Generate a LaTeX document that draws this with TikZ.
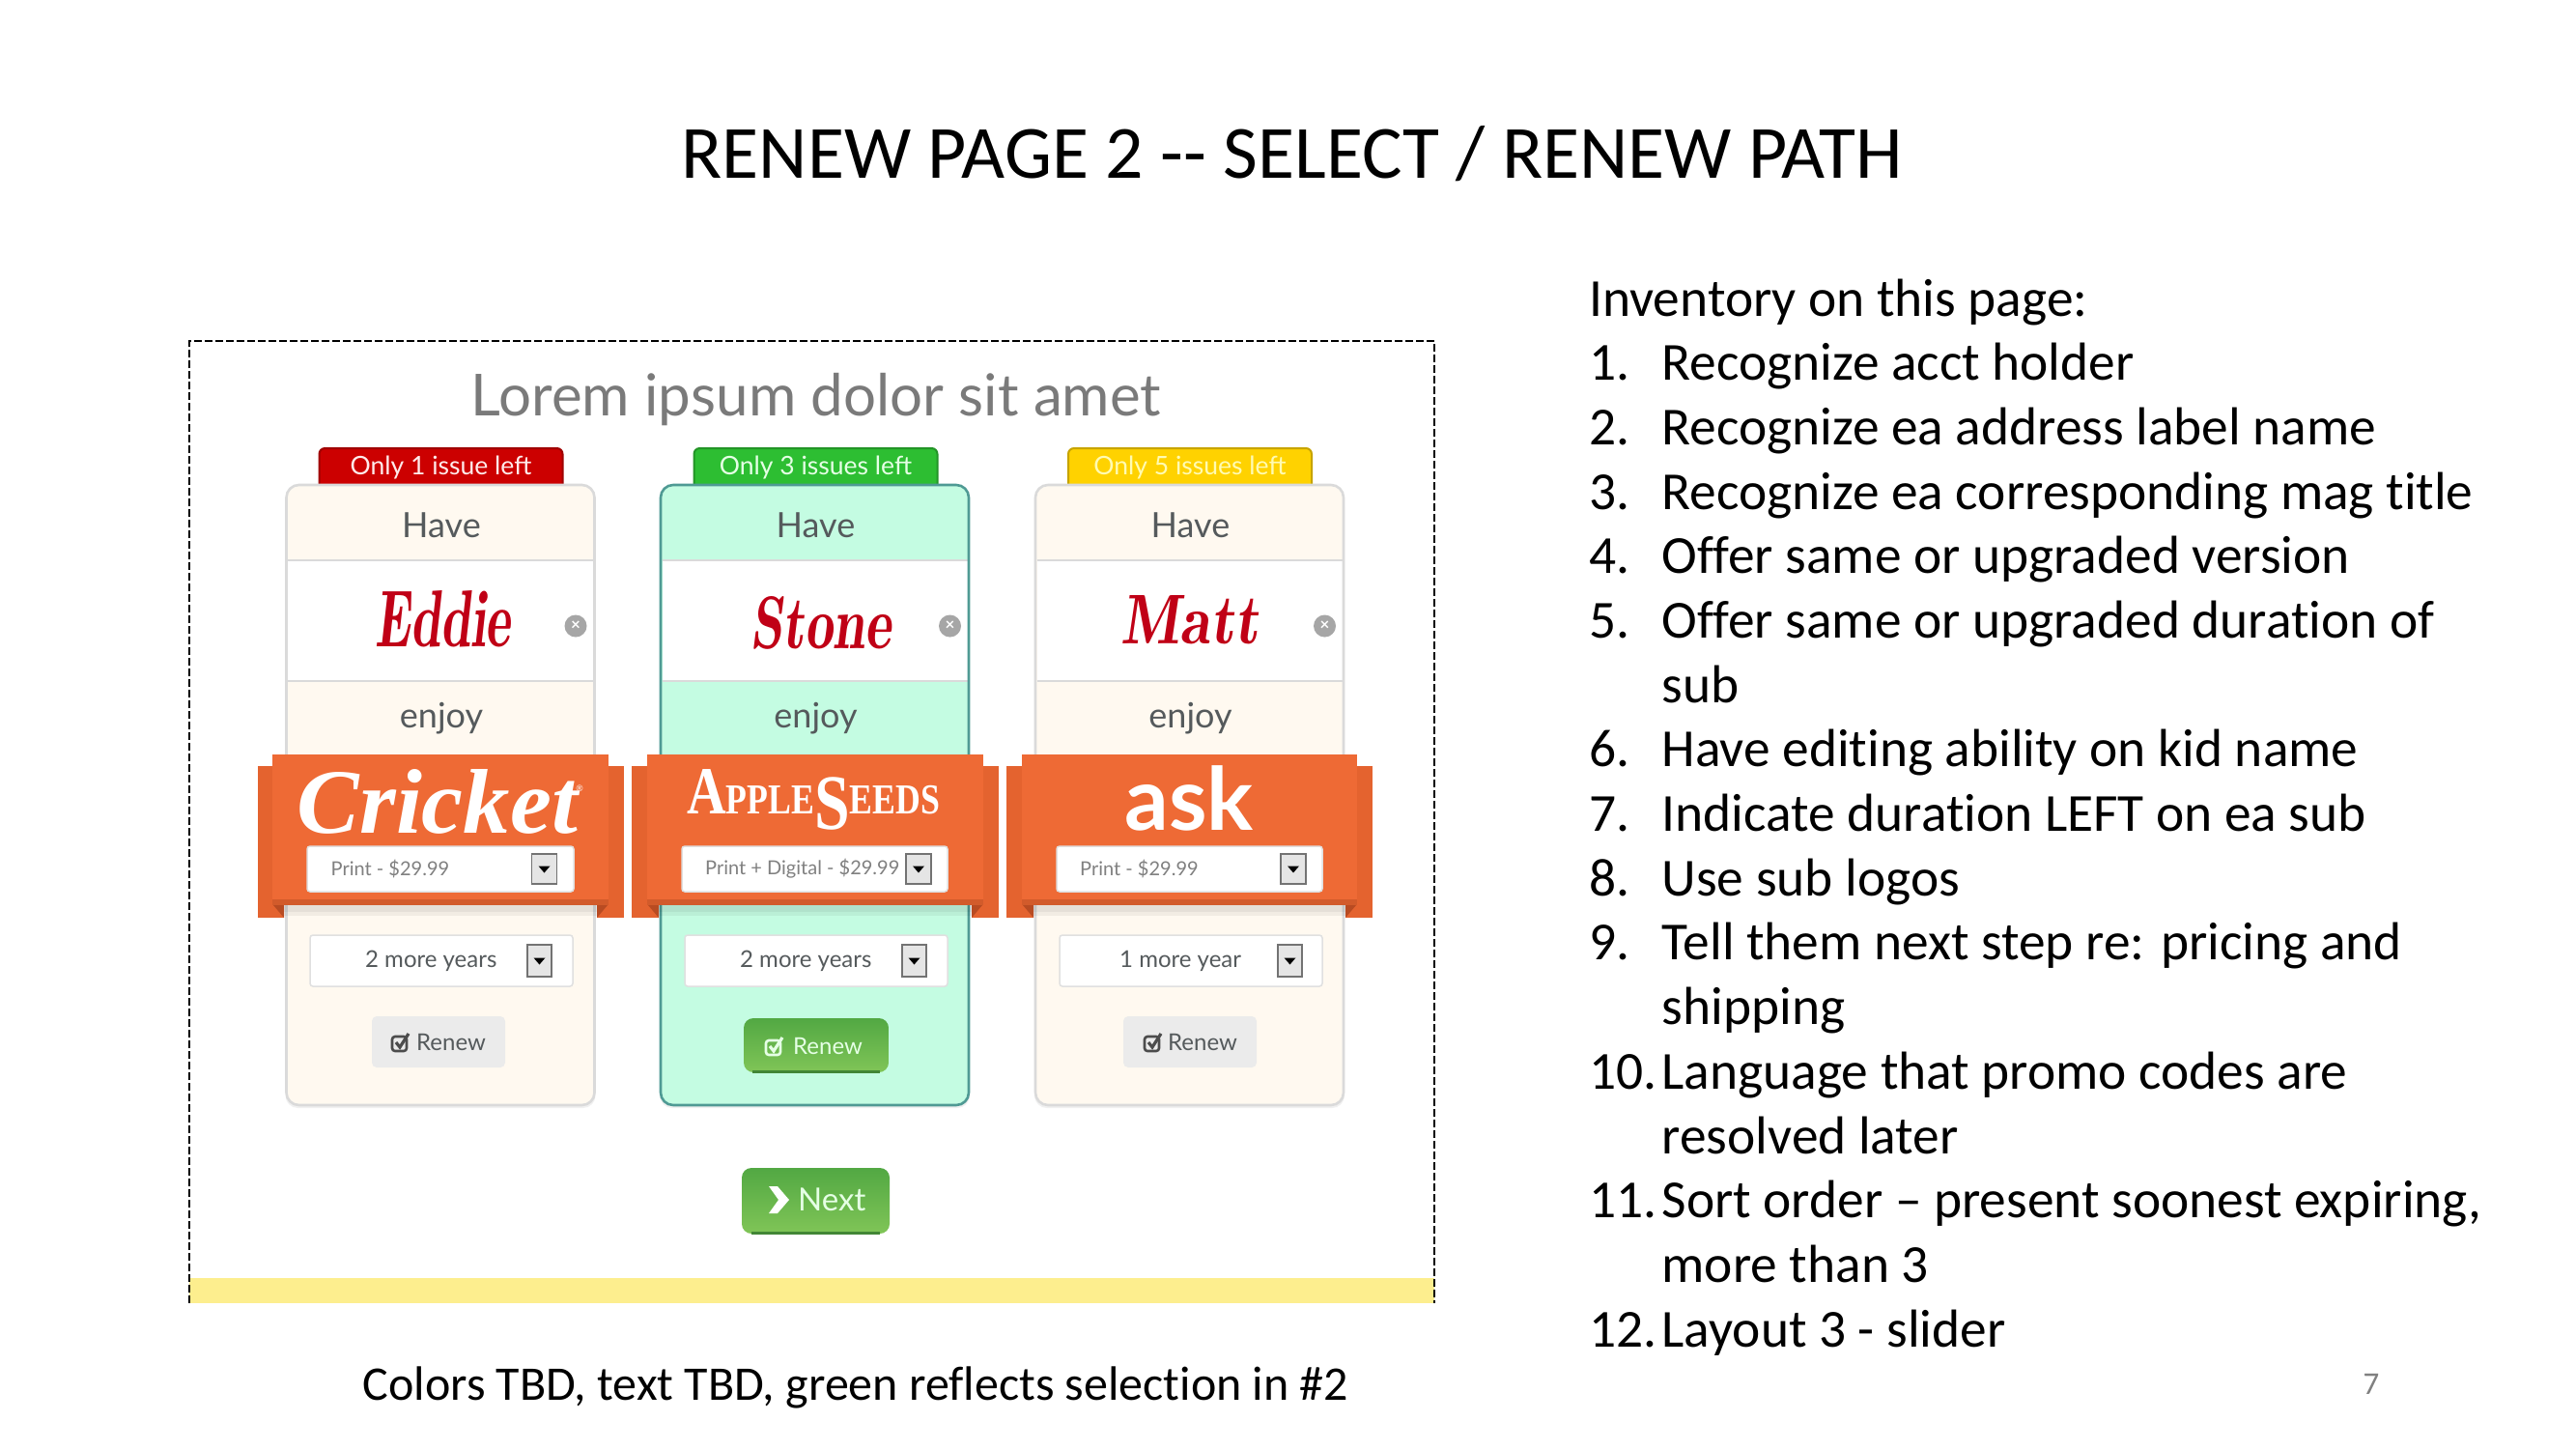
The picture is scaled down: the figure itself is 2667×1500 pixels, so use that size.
\documentclass[tikz,border=0pt]{standalone}
\usepackage{fontspec}
\usepackage{graphicx}
\setmainfont[Ligatures=NoCommon]{Carlito}
\newfontfamily\ui{Lato}
\newfontfamily\logoserif{Liberation Serif}
\usetikzlibrary{calc}
\definecolor{cream}{HTML}{FFF9F0}
\definecolor{mint}{HTML}{C4FCE2}
\definecolor{cardgrey}{HTML}{DADADA}
\definecolor{cardteal}{HTML}{4F9A94}
\definecolor{ribbon}{HTML}{EE6A35}
\definecolor{ribbonside}{HTML}{E4632F}
\definecolor{ribbonfold}{HTML}{B84B22}
\definecolor{nametxt}{HTML}{C00016}
\definecolor{uitext}{HTML}{555A5C}
\definecolor{barcol}{HTML}{FDEE8E}
\definecolor{btnlo}{HTML}{80C557}
\definecolor{btnhi}{HTML}{52A843}
\definecolor{badgered}{HTML}{CC0000}
\definecolor{badgegreen}{HTML}{2DBE32}
\definecolor{badgeyellow}{HTML}{FFD200}
\newcommand{\fitbox}[3]{\resizebox{#1pt}{#2pt}{#3}}
\tikzset{
  uilabel/.style={inner sep=0pt,text=uitext,font=\ui\fontsize{36}{36}\selectfont},
  picktext/.style={inner sep=0pt,text=uitext,font=\ui\fontsize{24}{24}\selectfont,anchor=west},
  pricetext/.style={inner sep=0pt,text=black!50,font=\ui\fontsize{20}{20}\selectfont,anchor=west},
  badgetext/.style={inner sep=0pt,font=\ui\fontsize{26.5}{26.5}\selectfont},
  invtext/.style={inner sep=0pt,anchor=base west,font=\fontsize{55.4}{67}\selectfont},
  white box/.style={fill=white,draw=black!12,line width=1.5pt,rounded corners=3pt},
  arrowbox/.style={fill=black!10,draw=black!55,line width=1.5pt},
}
% badge, card body, name band, labels
\newcommand{\cardbase}[9]{%
  % #1 id  #2 card left  #3 fill  #4 border  #5 badge left  #6 badge right  #7 badge colour  #8 badge text colour  #9 text
  \fill[black!6,rounded corners=13pt] (#2-1,512) rectangle (#2+320,1147);
  \draw[fill=#7,draw=#7!78!black,line width=2pt,rounded corners=6pt] (#5,506) -- (#5,464) -- (#6,464) -- (#6,506);
  \node[badgetext,text=#8] (#1badge) at ({(#5+#6)/2},484) {#9};
  \path[fill=#3,rounded corners=13pt] (#2,502) rectangle (#2+319,1144);
  \path[fill=white] (#2+1.5,580) rectangle (#2+317.5,705);
  \draw[cardgrey,line width=2pt] (#2+1.5,580) -- (#2+317.5,580);
  \draw[cardgrey,line width=2pt] (#2+1.5,705) -- (#2+317.5,705);
  \draw[#4,line width=2.6pt,rounded corners=13pt] (#2,502) rectangle (#2+319,1144);
  \node[uilabel] (#1have) at (#2+160.5,544) {Have};
  \node[uilabel] (#1enjoy) at (#2+160.5,744) {enjoy};
  \fill[black!35] (#2+299.5,648) circle (11.5pt);
  \node[inner sep=0pt,text=white,font=\ui\bfseries\fontsize{17}{17}\selectfont] (#1close) at (#2+299.5,648) {×};
}
\newcommand{\ribbonband}[4]{%
  % outer left, main left, main right, outer right
  \fill[black,opacity=.05] (#2+12,937) rectangle (#3-12,948);
  \fill[black,opacity=.05] (#2+12,937) rectangle (#3-12,944);
  \fill[ribbonside] (#1,793) rectangle (#2+12,950);
  \fill[ribbonside] (#3-12,793) rectangle (#4,950);
  \fill[ribbon] (#2,781) rectangle (#3,937);
  \fill[ribbonside!92!black] (#2,931) rectangle (#3,937);
  \fill[ribbonfold] (#2+1,937) -- (#2+12,937) -- (#2+12,950) -- cycle;
  \fill[ribbonfold] (#3-1,937) -- (#3-12,937) -- (#3-12,950) -- cycle;
}
\newcommand{\picker}[8]{%
  % #1 id  #2 left  #3 right  #4 top  #5 bottom  #6 arrow left  #7 arrow right  #8 arrow pad
  \draw[white box] (#2,#4) rectangle (#3,#5);
  \draw[arrowbox] (#6,#4+#8) rectangle (#7,#5-#8);
  \fill[black] ({(#6+#7)/2-6},{(#4+#5)/2-3}) -- ({(#6+#7)/2+6},{(#4+#5)/2-3}) -- ({(#6+#7)/2},{(#4+#5)/2+4}) -- cycle;
}
\newcommand{\tickicon}[3]{%
  \draw[#3,line width=2.6pt,rounded corners=3pt] (#1-8,#2-6) rectangle (#1+7,#2+9);
  \draw[#3,line width=3.2pt] (#1-4,#2) -- (#1,#2+5) -- (#1+9,#2-9);
}
\newcommand{\invline}[3]{%
  \node[invtext] (num#1) at (1645,#1) {#2};
  \node[invtext] (txt#1) at (1720.5,#1) {#3};
}
\begin{document}
\begin{tikzpicture}[x=1pt,y=-1pt]
\useasboundingbox (0,0) rectangle (2667,1500);
\fill[white] (0,0) rectangle (2667,1500);

\node[inner sep=0pt,anchor=base,font=\fontsize{77.8}{78}\selectfont] (title) at (1338,184) {RENEW PAGE 2 -{}- SELECT / RENEW PATH};

% mock-up frame
\fill[barcol] (196,1323) rectangle (1485,1349);
\draw[black,line width=2pt,dash pattern=on 8pt off 3pt] (196,1349) -- (196,353) -- (1485,353) -- (1485,1349);

\node[inner sep=0pt,text=black!52,font=\ui\fontsize{60}{60}\selectfont] (lorem) at (845,414) {Lorem ipsum dolor sit amet};

\cardbase{a}{296.5}{cream}{cardgrey}{330.5}{582.5}{badgered}{white!92!red}{Only 1 issue left}
\cardbase{b}{684}{mint}{cardteal}{718.5}{970.5}{badgegreen}{white!90!green}{Only 3 issues left}
\cardbase{c}{1072}{cream}{cardgrey}{1106}{1358}{badgeyellow}{yellow!30!white}{Only 5 issues left}

\ribbonband{266.5}{282}{630}{646}
\ribbonband{654}{670}{1018}{1034}
\ribbonband{1042}{1058}{1405}{1421}

% names
\node[inner sep=0pt,text=nametxt] (eddie) at (459,641) {\fitbox{140}{58}{\fontfamily{lmr}\bfseries\itshape Eddie}};
\node[inner sep=0pt,text=nametxt] (stone) at (850,645) {\fitbox{145}{54}{\fontfamily{lmr}\bfseries\itshape Stone}};
\node[inner sep=0pt,text=nametxt] (matt) at (1232,642) {\fitbox{143}{50}{\fontfamily{lmr}\bfseries\itshape Matt}};

% logos
\node[inner sep=0pt,text=white] (cricket) at (453,830) {\fitbox{290}{66}{\logoserif\bfseries\itshape Cricket}};
\node[inner sep=0pt,text=white,font=\ui\fontsize{9}{9}\selectfont] (cricketreg) at (600,816) {®};
\node[inner sep=0pt,text=white,font=\logoserif\bfseries,anchor=base] (apple) at (842,842) {\fitbox{262}{46}{{\fontsize{60}{60}\selectfont A}{\fontsize{38}{38}\selectfont PPLE}\raisebox{-14pt}{\fontsize{70}{70}\selectfont S}{\fontsize{38}{38}\selectfont EEDS}}};
\node[inner sep=0pt,text=white,font=\ui\bfseries\fontsize{90}{90}\selectfont,anchor=base] (ask) at (1231,859) {ask};

% price selectors
\picker{pa}{318}{594}{876}{923}{550.5}{576.5}{8}
\node[pricetext] (pricea) at (342.5,899) {Print - \$29.99};
\picker{pb}{706}{981}{876}{923}{938}{964}{8}
\node[pricetext] (priceb) at (730,899) {Print + Digital - \$29.99};
\picker{pc}{1094}{1369}{876}{923}{1326}{1352}{8}
\node[pricetext] (pricec) at (1118,899) {Print - \$29.99};

% term selectors
\picker{ta}{321}{593}{968}{1021}{546}{571}{10}
\node[picktext] (terma) at (378,995) {2 more years};
\picker{tb}{709}{981}{968}{1021}{934}{959}{10}
\node[picktext] (termb) at (766,995) {2 more years};
\picker{tc}{1097}{1369}{968}{1021}{1323}{1348}{10}
\node[picktext] (termc) at (1159,995) {1 more year};

% renew buttons
\fill[black!8,rounded corners=5pt] (385,1052) rectangle (523,1105);
\tickicon{414}{1079}{black!70}
\node[picktext] (renewa) at (431,1079) {Renew};
\path[top color=btnhi,bottom color=btnlo,rounded corners=10pt] (770,1054) rectangle (920,1110);
\draw[btnhi!80!black,line width=3pt] (779,1109) -- (911,1109);
\tickicon{801}{1083}{white!90!green}
\node[picktext,text=white!90!green] (renewb) at (821,1083) {Renew};
\fill[black!8,rounded corners=5pt] (1163,1052) rectangle (1301,1105);
\tickicon{1193}{1079}{black!70}
\node[picktext] (renewc) at (1209,1079) {Renew};

% next button
\path[top color=btnhi,bottom color=btnlo,rounded corners=10pt] (768,1209) rectangle (921,1277);
\draw[btnhi!80!black,line width=3pt] (778,1276) -- (911,1276);
\fill[white] (796,1228) -- (805,1228) -- (817,1242) -- (805,1256) -- (796,1256) -- (806,1242) -- cycle;
\node[inner sep=0pt,anchor=west,text=white!90!green,font=\ui\fontsize{33}{33}\selectfont] (next) at (826,1242) {Next};

% caption
\node[inner sep=0pt,anchor=base,font=\fontsize{50}{50}\selectfont] (caption) at (886,1449.5) {Colors TBD, text TBD, green reflects selection in \#2};

% inventory list
\node[invtext] (inv) at (1645,327) {Inventory on this page:};
\invline{393}{1.}{Recognize acct holder}
\invline{460}{2.}{Recognize ea address label name}
\invline{527}{3.}{Recognize ea corresponding mag title}
\invline{593.5}{4.}{Offer same or upgraded version}
\invline{660}{5.}{Offer same or upgraded duration of}
\node[invtext] (txt5b) at (1720.5,727) {sub};
\invline{793.5}{6.}{Have editing ability on kid name}
\invline{860}{7.}{Indicate duration LEFT on ea sub}
\invline{927}{8.}{Use sub logos}
\invline{993.5}{9.}{Tell them next step re: pricing and}
\node[invtext] (txt9b) at (1720.5,1060) {shipping};
\invline{1127}{10.}{Language that promo codes are}
\node[invtext] (txt10b) at (1720.5,1194) {resolved later};
\invline{1260.5}{11.}{Sort order – present soonest expiring,}
\node[invtext] (txt11b) at (1720.5,1327) {more than 3};
\invline{1394.5}{12.}{Layout 3 - slider}

\node[inner sep=0pt,anchor=base,text=black!50,font=\fontsize{33}{33}\selectfont] (pagenum) at (2455,1443) {7};
\end{tikzpicture}
\end{document}
